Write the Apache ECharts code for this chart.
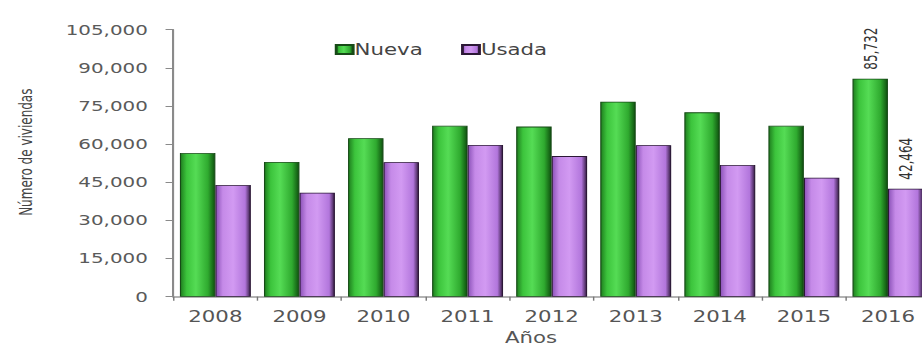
<!DOCTYPE html>
<html>
<head>
<meta charset="utf-8">
<script src="https://cdn.jsdelivr.net/npm/echarts@6/dist/echarts.min.js"></script>
<style>
  html, body { margin: 0; padding: 0; background: #ffffff; overflow: hidden; }
  #chart {
    width: 650px; height: 345px;
    transform: scaleX(1.4185); transform-origin: 0 0;
  }
</style>
</head>
<body>
<div id="chart"></div>
<script>
// Viviendas vendidas por año
const years = ['2008', '2009', '2010', '2011', '2012', '2013', '2014', '2015', '2016'];
const nueva = [56500, 53000, 62300, 67200, 66900, 76700, 72500, 67200, 85732];
const usada = [43900, 40900, 52900, 59700, 55300, 59600, 51800, 46800, 42464];
const yTicks = { min: 0, max: 105000, step: 15000 };

const fmt = v => String(v).replace(/\B(?=(\d{3})+(?!\d))/g, ',');
const FONT = 'DejaVu Sans';

const greenFill = new echarts.graphic.LinearGradient(0, 0, 1, 0, [
  { offset: 0, color: '#1f7f1f' },
  { offset: 0.18, color: '#3cc43c' },
  { offset: 0.45, color: '#55dc55' },
  { offset: 0.8, color: '#2faa2f' },
  { offset: 1, color: '#0f520f' }
]);
const purpleFill = new echarts.graphic.LinearGradient(0, 0, 1, 0, [
  { offset: 0, color: '#8b52b8' },
  { offset: 0.2, color: '#c58ae8' },
  { offset: 0.5, color: '#d29af2' },
  { offset: 0.85, color: '#b276dc' },
  { offset: 1, color: '#3a2049' }
]);

// only the last year carries a value label
const withLastLabel = arr => arr.map((v, i) => i === arr.length - 1
  ? { value: v, label: { show: true } }
  : v);

const valueLabel = {
  show: false,
  position: 'top',
  rotate: 90,
  align: 'left',
  verticalAlign: 'middle',
  distance: 9,
  fontFamily: FONT,
  fontSize: 12,
  color: '#333',
  formatter: p => fmt(p.value)
};

const chart = echarts.init(document.getElementById('chart'), null, { renderer: 'svg' });
chart.setOption({
  animation: false,
  backgroundColor: '#ffffff',
  grid: { left: 122.2, right: -5.6, top: 29.7, bottom: 48.3, containLabel: false, outerBoundsMode: 'none' },
  legend: {
    top: 37, left: 231,
    icon: 'rect',
    itemWidth: 12, itemHeight: 9, itemGap: 27,
    textStyle: { fontFamily: FONT, fontSize: 15, color: '#444', padding: [0, 0, 0, -4] },
    data: ['Nueva', 'Usada']
  },
  xAxis: {
    type: 'category',
    data: years,
    name: 'Años',
    nameLocation: 'middle',
    nameGap: 33,
    nameTextStyle: { fontFamily: FONT, fontSize: 15, color: '#555', padding: [0, 29, 0, 0] },
    axisLine: { lineStyle: { color: '#9a9a9a', width: 1.5 } },
    axisTick: { show: true, length: 4, lineStyle: { color: '#777' } },
    axisLabel: { margin: 12, fontFamily: FONT, fontSize: 15, color: '#555' }
  },
  yAxis: {
    type: 'value',
    min: yTicks.min, max: yTicks.max, interval: yTicks.step,
    name: 'Número de viviendas',
    nameLocation: 'middle',
    nameGap: 98,
    nameRotate: 90,
    nameTextStyle: { fontFamily: FONT, fontSize: 12, color: '#444', padding: [0, 0, 0, 22] },
    axisLine: { show: true, lineStyle: { color: '#8a8a8a', width: 1.5 } },
    axisTick: { show: true, length: 5.5, lineStyle: { color: '#8a8a8a' } },
    splitLine: { show: false },
    axisLabel: { margin: 18, fontFamily: FONT, fontSize: 14, color: '#5a5a5a', formatter: v => fmt(v) }
  },
  series: [
    {
      name: 'Nueva', type: 'bar',
      data: withLastLabel(nueva),
      barWidth: 25, barGap: '0%',
      itemStyle: { color: greenFill, borderColor: '#174a17', borderWidth: 0.8 },
      label: valueLabel
    },
    {
      name: 'Usada', type: 'bar',
      data: withLastLabel(usada),
      barWidth: 25, barGap: '0%',
      itemStyle: { color: purpleFill, borderColor: '#2b1836', borderWidth: 0.8 },
      label: valueLabel
    }
  ]
});
</script>
</body>
</html>
